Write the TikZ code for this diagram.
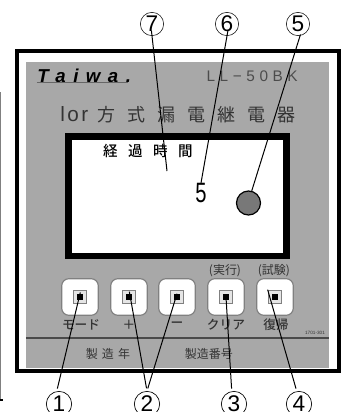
\documentclass[tikz,border=0pt]{standalone}
\usepackage{fontspec}
\setmainfont{Liberation Sans}
\newfontfamily\cjk{Noto Sans CJK JP}
\newfontfamily\cjkbold{Noto Sans CJK JP Medium}
\newfontfamily\widefont[LetterSpace=30]{Liberation Sans}
\newfontfamily\tightfont[LetterSpace=12]{Liberation Sans}
\newfontfamily\wideslant[LetterSpace=40]{Liberation Sans Bold Italic}
\usetikzlibrary{calc}
\definecolor{panelgray}{gray}{0.66}
\definecolor{inkgray}{gray}{0.2}
\definecolor{gaugegray}{gray}{0.47}
\newcommand{\titlegap}{\hspace{0.67em}}
\newcommand{\timegap}{\hspace{0.72em}}
\tikzset{
  num/.style={circle,draw,line width=0.4pt,inner sep=0pt,minimum size=17.5pt,font=\fontsize{17}{17}\selectfont},
  numlow/.style={num,minimum size=19pt,line width=0.5pt},
  lead/.style={line width=0.75pt},
  btn/.style={draw=gray,line width=0.9pt,fill=white,rounded corners=5.5pt,minimum size=27.5pt,inner sep=0pt},
  btnlabel/.style={inner sep=0pt,text=inkgray,font=\fontsize{9.5}{9.5}\cjkbold},
  paneltext/.style={inner sep=0pt,text=inkgray}
}
\begin{document}
\begin{tikzpicture}[x=0.75pt,y=-0.75pt]
 \useasboundingbox (0,0) rectangle (342,412);

 % left margin rule
 \draw[gray,line width=1pt] (0.5,92) -- (0.5,399);
 \draw[line width=1.5pt] (0,400) -- (3,400);

 % panel
 \fill[panelgray] (26,62) rectangle (329,368);
 \draw[line width=3pt] (17,50.5) rectangle (339.5,371);
 \draw[inkgray!70!gray,line width=1.2pt] (26,338) -- (329,338);

 % display
 \draw[fill=white,line width=5.2pt] (68.5,136.5) rectangle (286.5,256);
 \node[inner sep=0pt,font=\fontsize{10.9}{11}\cjkbold] (elapsed) at (148,151) {経\timegap 過\timegap 時\timegap 間};
 \node[inner sep=0pt,xscale=0.72,font=\fontsize{21}{21}\selectfont] (five) at (201,193) {5};
 \node[circle,draw,fill=gaugegray,line width=0.9pt,minimum size=18pt,inner sep=0pt] (gauge) at (248.5,203) {};
 \coordinate (pointer) at (167,171);

 % header
 \node[inner sep=0pt,font=\fontsize{14}{14}\wideslant,anchor=base west] (brand) at (37,82) {Taiwa.};
 \draw[gray!80!black,line width=0.7pt] (37,82.5) -- (128,82.5);
 \node[paneltext,text=gray!60!black,font=\fontsize{11.5}{12}\widefont,anchor=east] (model) at (298,76) {LL−50BK};
 \node[paneltext,anchor=west,font=\fontsize{13.5}{14}\cjk] (title) at (60,115) {{\fontsize{15.5}{16}\tightfont lor}\hspace{0.5em}方\titlegap 式\titlegap 漏\titlegap 電\titlegap 継\titlegap 電\titlegap 器};

 % buttons
 \foreach \i/\x in {1/80,2/129,3/177,4/226,5/275}
 {
   \node[btn] (b\i) at (\x,297) {};
   \node[draw=gray,line width=1pt,fill=white!80!gray,minimum size=10pt,inner sep=0pt] (s\i) at (\x,297) {};
   \node[fill=black,minimum size=4.5pt,inner sep=0pt] (d\i) at (\x,297) {};
 }
 \node[btnlabel] (l1) at (81,325) {モード};
 \node[btnlabel] (l2) at (129,325) {＋};
 \node[btnlabel] (l3) at (177,325) {ー};
 \node[btnlabel] (l4) at (226,325) {クリア};
 \node[btnlabel] (l5) at (276,325) {復帰};
 \node[btnlabel,font=\fontsize{9}{9}\cjk] (run) at (225,271) {(実行)};
 \node[btnlabel,font=\fontsize{9}{9}\cjk] (test) at (274,271) {(試験)};

 % bottom strip
 \node[paneltext,font=\fontsize{9}{9}\cjk] (year) at (108,354) {製\hspace{0.35em}造\hspace{0.35em}年};
 \node[paneltext,font=\fontsize{9}{9}\cjk] (serial) at (209,354) {製造番号};
 \node[paneltext,font=\fontsize{3.5}{4}\selectfont] (code) at (315,333) {1701-301};

 % numbers
 \node[num] (n7) at (152,24) {7};
 \node[num] (n6) at (227,24) {6};
 \node[num] (n5) at (298,24) {5};
 \node[numlow] (n1) at (59,404) {1};
 \node[numlow] (n2) at (147,404) {2};
 \node[numlow] (n3) at (234,404) {3};
 \node[numlow] (n4) at (299,404) {4};

 % leaders
 \draw[lead,shorten <=-4pt] (n7.south) -- (pointer);
 \draw[lead,shorten <=-4pt] (n6.south) -- (five.north);
 \draw[lead,shorten <=-1pt] (n5.-80) -- (gauge.75);
 \draw[lead,shorten <=2pt,shorten >=-1pt] (n1.100) -- (d1.north);
 \draw[lead,shorten <=2pt,shorten >=1.5pt] (n2.north) -- (s2.north);
 \draw[lead,shorten <=2pt] (n2.north) -- (d3.north);
 \draw[lead,shorten <=2pt] (n3.100) -- (d4.center);
 \draw[lead,shorten <=2pt] (n4.100) -- (s5.north west);
\end{tikzpicture}
\end{document}
